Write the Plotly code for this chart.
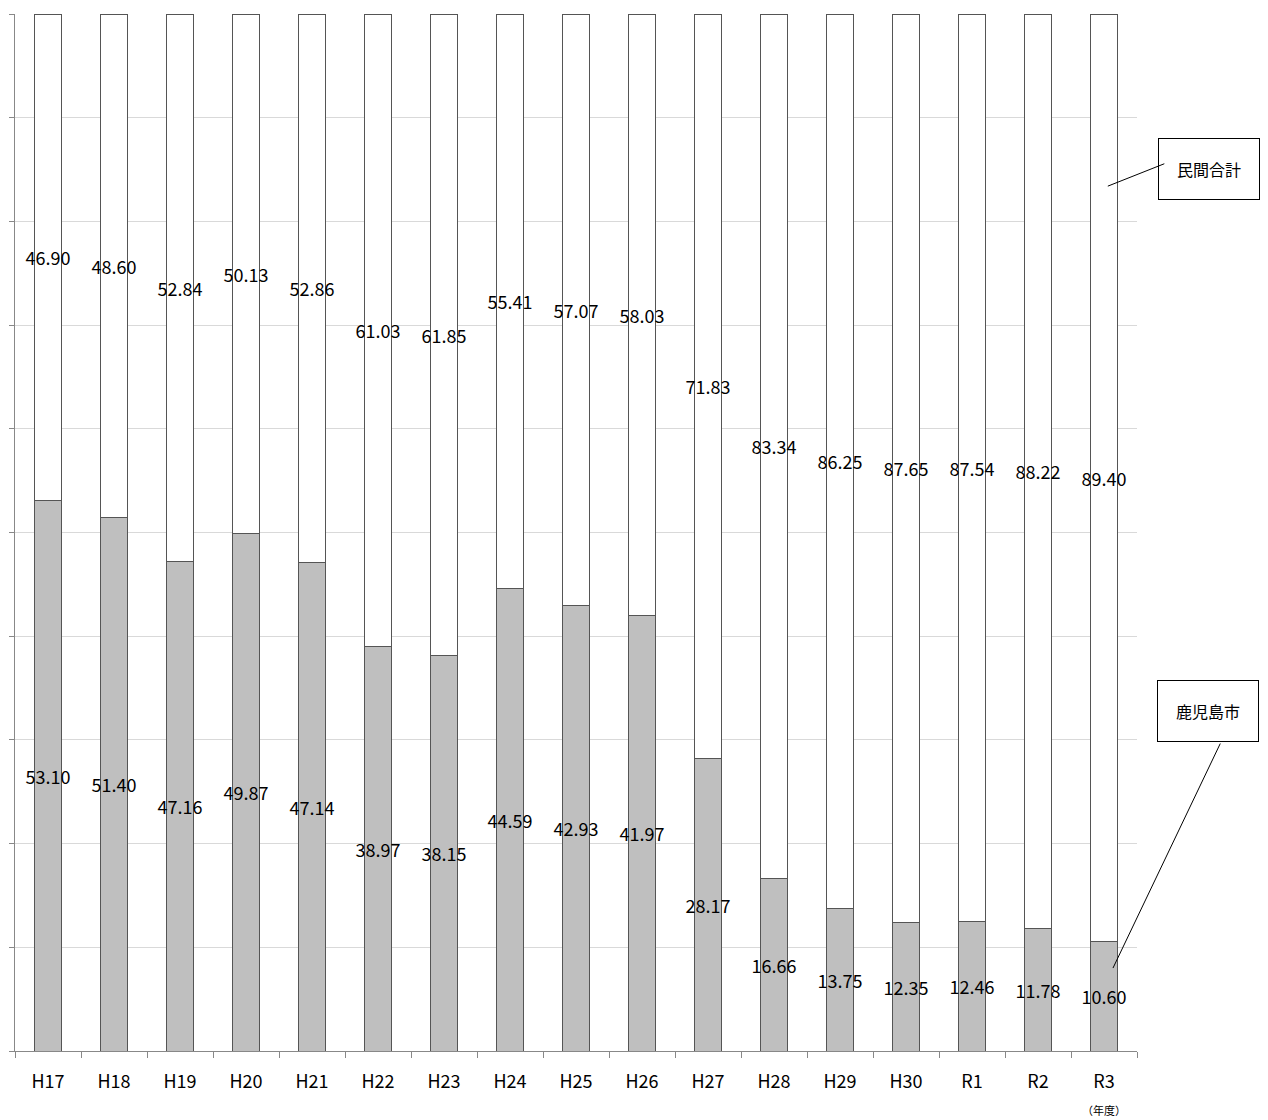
import plotly.graph_objects as go

years = ["H17", "H18", "H19", "H20", "H21", "H22", "H23", "H24", "H25", "H26",
         "H27", "H28", "H29", "H30", "R1", "R2", "R3"]
city = [53.10, 51.40, 47.16, 49.87, 47.14, 38.97, 38.15, 44.59, 42.93, 41.97,
        28.17, 16.66, 13.75, 12.35, 12.46, 11.78, 10.60]
private = [46.90, 48.60, 52.84, 50.13, 52.86, 61.03, 61.85, 55.41, 57.07, 58.03,
           71.83, 83.34, 86.25, 87.65, 87.54, 88.22, 89.40]

font = dict(family="Noto Sans CJK JP", size=18, color="black")

fig = go.Figure()
fig.add_trace(go.Bar(x=years, y=city, name="鹿児島市", marker_color="#bfbfbf",
                     marker_line=dict(color="#555555", width=1),
                     text=[f"{v:.2f}" for v in city], textposition="inside",
                     textangle=0, insidetextanchor="middle", constraintext="none",
                     textfont=font))
fig.add_trace(go.Bar(x=years, y=private, name="民間合計", marker_color="white",
                     marker_line=dict(color="#555555", width=1),
                     text=[f"{v:.2f}" for v in private], textposition="inside",
                     textangle=0, insidetextanchor="middle", constraintext="none",
                     textfont=font))

fig.update_layout(
    barmode="stack", bargap=0.6, showlegend=False,
    width=1268, height=1120, plot_bgcolor="white", paper_bgcolor="white",
    margin=dict(l=2, r=139, t=6, b=77), font=font,
    xaxis=dict(showline=True, linecolor="#888888", ticks="outside",
               tickson="boundaries", ticklen=6, tickcolor="#888888",
               ticklabelstandoff=14, tickfont=dict(size=18)),
    yaxis=dict(range=[0, 100], dtick=10, showticklabels=False,
               gridcolor="#d9d9d9", showline=True, linecolor="#888888",
               ticks="outside", ticklen=5, tickcolor="#888888"),
)

# callout boxes and leader lines
box = dict(bordercolor="black", borderwidth=1, bgcolor="white", borderpad=18,
           xanchor="left", yanchor="middle", showarrow=False,
           font=dict(size=16, color="black"))
fig.add_annotation(xref="paper", yref="paper", x=1.019, y=0.851, text="民間合計", **box)
fig.add_annotation(xref="paper", yref="paper", x=1.018, y=0.328, text="鹿児島市", **box)
fig.add_annotation(xref="paper", yref="paper", x=0.974, y=0.834, text="",
                   showarrow=True, ax=58, ay=-23, arrowhead=0, arrowcolor="black")
fig.add_annotation(xref="paper", yref="paper", x=0.9786, y=0.080, text="",
                   showarrow=True, ax=108, ay=-226, arrowhead=0, arrowcolor="black")
fig.add_annotation(xref="paper", yref="paper", x=0.971, y=-0.057, text="（年度）",
                   showarrow=False, xanchor="center", yanchor="middle",
                   font=dict(size=11, color="black"))

fig.write_html("out.html")
